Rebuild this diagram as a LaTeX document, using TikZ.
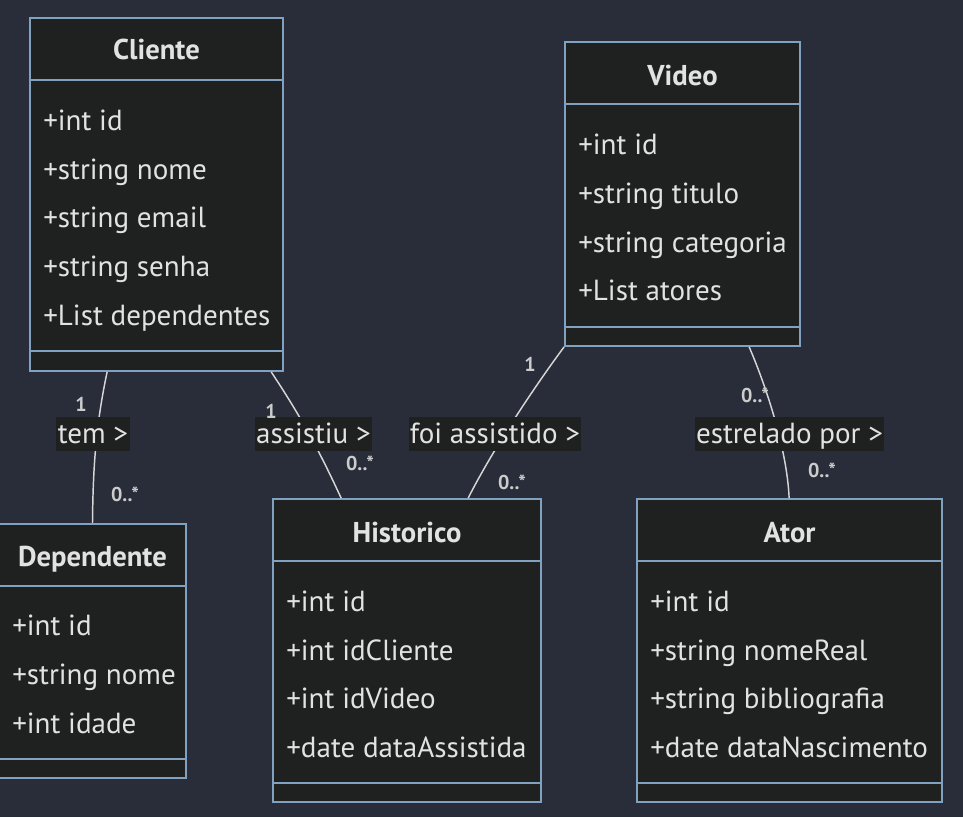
\documentclass[tikz,border=0pt]{standalone}
\usepackage{fontspec}
\setmainfont{PT Sans}
\usetikzlibrary{fit,calc}
\definecolor{bgc}{RGB}{41,45,57}
\definecolor{boxc}{RGB}{31,32,32}
\definecolor{bordc}{RGB}{129,161,193}
\definecolor{txtc}{RGB}{226,226,226}
\definecolor{edgec}{RGB}{214,214,214}
\definecolor{multc}{RGB}{204,204,204}
\tikzset{
  cls/.style={draw=bordc, fill=boxc, line width=1.3pt, inner sep=0pt},
  divider/.style={draw=bordc, line width=1.3pt},
  ctitle/.style={text=txtc, font=\fontsize{21.5}{24}\selectfont\bfseries, inner sep=0pt, anchor=base},
  attr/.style={text=txtc, font=\fontsize{21.8}{24}\selectfont, anchor=base west, inner sep=0pt},
  edge/.style={draw=edgec, line width=1.1pt},
  elabel/.style={fill=boxc, text=txtc, font=\fontsize{21.8}{24}\selectfont, inner xsep=1pt, inner ysep=0pt, text height=19.5pt, text depth=6pt, anchor=base},
  mult/.style={text=multc, font=\fontsize{15}{17}\selectfont\bfseries, inner sep=0pt},
}
\begin{document}
\begin{tikzpicture}[x=0.75pt,y=-0.75pt]
\fill[bgc] (0,0) rectangle (963,817);
\useasboundingbox (0,0) rectangle (963,817);

% Cliente
\node[cls, fit={(30,18) (283,371)}] (cliente) {};
\draw[divider] (30,80) -- (283,80);
\draw[divider] (30,351) -- (283,351);
\node[ctitle] (cliT) at (156.5,60) {Cliente};
\node[attr] (cli1) at (43,130) {+int id};
\node[attr] (cli2) at (43,179) {+string nome};
\node[attr] (cli3) at (43,227) {+string email};
\node[attr] (cli4) at (43,276) {+string senha};
\node[attr] (cli5) at (43,325) {+List dependentes};

% Video
\node[cls, fit={(565,42) (800,346)}] (video) {};
\draw[divider] (565,104) -- (800,104);
\draw[divider] (565,327) -- (800,327);
\node[ctitle] (vidT) at (682.5,85) {Video};
\node[attr] (vid1) at (578,154) {+int id};
\node[attr] (vid2) at (578,203) {+string titulo};
\node[attr] (vid3) at (578,252) {+string categoria};
\node[attr] (vid4) at (578,300) {+List atores};

% Dependente
\node[cls, fit={(-1,524) (186,778)}] (dep) {};
\draw[divider] (-1,586) -- (186,586);
\draw[divider] (-1,759) -- (186,759);
\node[ctitle] (depT) at (92.5,566) {Dependente};
\node[attr] (dep1) at (12,635) {+int id};
\node[attr] (dep2) at (12,684) {+string nome};
\node[attr] (dep3) at (12,733) {+int idade};

% Historico
\node[cls, fit={(273,499) (541,802)}] (hist) {};
\draw[divider] (273,561) -- (541,561);
\draw[divider] (273,783) -- (541,783);
\node[ctitle] (hisT) at (407,542) {Historico};
\node[attr] (his1) at (286,611) {+int id};
\node[attr] (his2) at (286,660) {+int idCliente};
\node[attr] (his3) at (286,708) {+int idVideo};
\node[attr] (his4) at (286,757) {+date dataAssistida};

% Ator
\node[cls, fit={(637,499) (942,802)}] (ator) {};
\draw[divider] (637,561) -- (942,561);
\draw[divider] (637,783) -- (942,783);
\node[ctitle] (atoT) at (789.5,542) {Ator};
\node[attr] (ato1) at (650,611) {+int id};
\node[attr] (ato2) at (650,660) {+string nomeReal};
\node[attr] (ato3) at (650,708) {+string bibliografia};
\node[attr] (ato4) at (650,757) {+date dataNascimento};

% edges
\draw[edge] ($(cliente.south west)+(78,0)$) .. controls (97,420) and (93,460) .. (dep.north);
\draw[edge] ($(cliente.south west)+(242,0)$) .. controls (300,415) and (320,452) .. ($(hist.north west)+(69,0)$);
\draw[edge] ($(video.south west)+(0,0)$) .. controls (535,386) and (493,449) .. ($(hist.north west)+(196,0)$);
\draw[edge] ($(video.south west)+(185,0)$) .. controls (766,386) and (787,449) .. ($(ator.north west)+(153,0)$);

% edge labels
\node[elabel] (lTem) at (93,443) {tem >};
\node[elabel] (lAss) at (313.5,443) {assistiu >};
\node[elabel] (lFoi) at (495,443) {foi assistido >};
\node[elabel] (lEst) at (789.5,443) {estrelado por >};

% multiplicities
\node[mult] (m1) at (81,404) {1};
\node[mult] (m2) at (125,494) {0..*};
\node[mult] (m3) at (271,411) {1};
\node[mult] (m4) at (360,463) {0..*};
\node[mult] (m5) at (530,364) {1};
\node[mult] (m6) at (512,482) {0..*};
\node[mult] (m7) at (755,395) {0..*};
\node[mult] (m8) at (822,470) {0..*};
\end{tikzpicture}
\end{document}
